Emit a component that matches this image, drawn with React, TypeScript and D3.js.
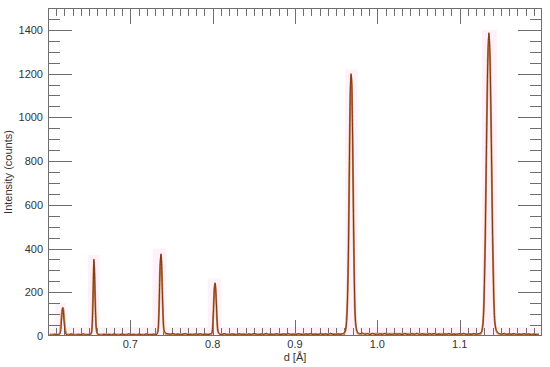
import React, { useEffect, useRef } from 'react';
import * as d3 from 'd3';

// observed profile [d, counts]
const observed: [number, number][] = [
  [0.602, 6], [0.605, 3], [0.608, 9], [0.611, 5], [0.614, 8], [0.6155, 22], [0.6165, 70], [0.6175, 122], [0.618, 130],
  [0.6185, 118], [0.6195, 66], [0.6205, 22], [0.622, 8], [0.625, 4], [0.628, 10], [0.631, 6], [0.634, 3], [0.637, 8],
  [0.640, 5], [0.643, 11], [0.646, 4], [0.649, 7], [0.652, 9], [0.653, 20], [0.654, 80], [0.655, 230], [0.6557, 352],
  [0.6565, 290], [0.6575, 140], [0.6585, 40], [0.660, 12], [0.662, 6], [0.665, 3], [0.668, 9], [0.671, 5], [0.674, 8],
  [0.677, 4], [0.680, 10], [0.683, 6], [0.686, 3], [0.689, 9], [0.692, 7], [0.695, 4], [0.698, 11], [0.701, 5],
  [0.704, 8], [0.707, 3], [0.710, 9], [0.713, 6], [0.716, 4], [0.719, 10], [0.722, 7], [0.725, 5], [0.728, 9],
  [0.731, 6], [0.733, 12], [0.734, 40], [0.735, 140], [0.736, 300], [0.7373, 376], [0.738, 330], [0.739, 190],
  [0.740, 70], [0.741, 25], [0.743, 14], [0.746, 10], [0.749, 8], [0.752, 12], [0.755, 6], [0.758, 10], [0.761, 5],
  [0.764, 9], [0.767, 12], [0.770, 6], [0.773, 8], [0.776, 4], [0.779, 10], [0.782, 7], [0.785, 11], [0.788, 5],
  [0.791, 9], [0.794, 6], [0.797, 10], [0.799, 14], [0.800, 40], [0.801, 120], [0.802, 215], [0.8028, 243],
  [0.8035, 225], [0.8045, 150], [0.8055, 60], [0.8065, 22], [0.808, 10], [0.811, 6], [0.814, 12], [0.817, 7],
  [0.820, 4], [0.823, 10], [0.826, 8], [0.829, 5], [0.832, 11], [0.835, 7], [0.838, 9], [0.841, 4], [0.844, 10],
  [0.847, 6], [0.850, 12], [0.853, 8], [0.856, 5], [0.859, 10], [0.862, 7], [0.865, 13], [0.868, 6], [0.871, 9],
  [0.874, 5], [0.877, 11], [0.880, 8], [0.883, 6], [0.886, 10], [0.889, 7], [0.892, 12], [0.895, 5], [0.898, 9],
  [0.901, 6], [0.904, 11], [0.907, 8], [0.910, 5], [0.913, 10], [0.916, 7], [0.919, 12], [0.922, 6], [0.925, 9],
  [0.928, 5], [0.931, 11], [0.934, 7], [0.937, 10], [0.940, 6], [0.943, 13], [0.946, 8], [0.949, 5], [0.952, 10],
  [0.955, 7], [0.958, 12], [0.960, 16], [0.962, 40], [0.9635, 140], [0.965, 420], [0.966, 760], [0.967, 1080],
  [0.968, 1200], [0.969, 1150], [0.970, 900], [0.971, 560], [0.972, 270], [0.973, 100], [0.9745, 35], [0.976, 18],
  [0.979, 10], [0.982, 14], [0.985, 7], [0.988, 11], [0.991, 6], [0.994, 12], [0.997, 8], [1.000, 5], [1.003, 10],
  [1.006, 7], [1.009, 12], [1.012, 6], [1.015, 9], [1.018, 5], [1.021, 11], [1.024, 7], [1.027, 10], [1.030, 6],
  [1.033, 12], [1.036, 8], [1.039, 5], [1.042, 11], [1.045, 7], [1.048, 13], [1.051, 6], [1.054, 10], [1.057, 8],
  [1.060, 5], [1.063, 11], [1.066, 7], [1.069, 12], [1.072, 6], [1.075, 9], [1.078, 5], [1.081, 10], [1.084, 7],
  [1.087, 12], [1.090, 6], [1.093, 9], [1.096, 5], [1.099, 11], [1.102, 8], [1.105, 13], [1.108, 6], [1.111, 10],
  [1.114, 7], [1.117, 12], [1.120, 8], [1.123, 11], [1.126, 16], [1.128, 45], [1.1295, 150], [1.131, 430],
  [1.1325, 850], [1.134, 1230], [1.1355, 1387], [1.137, 1250], [1.1385, 880], [1.140, 460], [1.1415, 170],
  [1.143, 55], [1.145, 22], [1.148, 12], [1.151, 8], [1.154, 13], [1.157, 6], [1.160, 10], [1.163, 7], [1.166, 12],
  [1.169, 5], [1.172, 9], [1.175, 6], [1.178, 11], [1.181, 7], [1.184, 10], [1.187, 5], [1.190, 9], [1.193, 6],
  [1.196, 8],
];

// calculated profile [d, counts]
const calculated: [number, number][] = [
  [0.602, 7], [0.613, 7], [0.6145, 14], [0.616, 72], [0.617, 115], [0.618, 128], [0.619, 112], [0.620, 66],
  [0.6215, 18], [0.623, 7], [0.651, 7], [0.653, 18], [0.654, 78], [0.655, 235], [0.6557, 345], [0.6565, 292],
  [0.6575, 138], [0.6585, 42], [0.660, 11], [0.662, 7], [0.732, 8], [0.734, 38], [0.735, 142], [0.736, 298],
  [0.7373, 370], [0.738, 328], [0.739, 188], [0.740, 68], [0.741, 24], [0.743, 10], [0.745, 8], [0.799, 8],
  [0.800, 38], [0.801, 118], [0.802, 212], [0.8028, 240], [0.8035, 222], [0.8045, 148], [0.8055, 58], [0.8065, 20],
  [0.809, 8], [0.959, 9], [0.961, 20], [0.9635, 140], [0.965, 420], [0.966, 760], [0.967, 1075], [0.968, 1195],
  [0.969, 1148], [0.970, 895], [0.971, 555], [0.972, 265], [0.973, 98], [0.9745, 32], [0.977, 10], [1.125, 9],
  [1.127, 22], [1.1295, 148], [1.131, 428], [1.1325, 848], [1.134, 1228], [1.1355, 1382], [1.137, 1248],
  [1.1385, 878], [1.140, 458], [1.1415, 168], [1.143, 52], [1.146, 14], [1.149, 9], [1.196, 8],
];

// shaded reflection windows [dFrom, dTo, top]
const peakBands: [number, number, number][] = [
  [0.609, 0.622, 150],
  [0.6485, 0.662, 370],
  [0.727, 0.744, 400],
  [0.794, 0.8105, 262],
  [0.961, 0.976, 1220],
  [1.127, 1.145, 1400],
];
const baseBand = 40;

const xDomain = [0.6, 1.2];
const yDomain = [0, 1500];
const xTicks = [0.7, 0.8, 0.9, 1.0, 1.1];
const yTicks = [0, 200, 400, 600, 800, 1000, 1200, 1400];

export default function App() {
  const ref = useRef<SVGSVGElement>(null);

  useEffect(() => {
    const svg = d3.select(ref.current);
    svg.selectAll('*').remove();

    const left = 48, right = 542, top = 8, bottom = 336;
    const x = d3.scaleLinear().domain(xDomain).range([left, right]);
    const y = d3.scaleLinear().domain(yDomain).range([bottom, top]);

    const font = 'Liberation Sans, Arial, sans-serif';
    const axisColor = '#6e6e6e';
    const pink = '#fef1fa';

    // pink background bands
    svg.append('rect')
      .attr('x', left).attr('y', y(baseBand))
      .attr('width', right - left).attr('height', bottom - y(baseBand))
      .attr('fill', pink);

    svg.selectAll('rect.band')
      .data(peakBands)
      .enter().append('rect')
      .attr('class', 'band')
      .attr('x', d => x(d[0]))
      .attr('y', d => y(d[2]))
      .attr('width', d => x(d[1]) - x(d[0]))
      .attr('height', d => bottom - y(d[2]))
      .attr('fill', pink);

    // ticks (inward, all four sides)
    const xMinor = d3.range(61, 120).map(v => v / 100);
    const yMinor = d3.range(0, 1501, 50);
    const tickG = svg.append('g').attr('stroke', axisColor).attr('stroke-width', 1);
    xMinor.forEach(v => {
      const major = xTicks.some(t => Math.abs(t - v) < 1e-6);
      const len = major ? 16 : 8;
      const px = Math.round(x(v)) + 0.5;
      tickG.append('line').attr('x1', px).attr('x2', px).attr('y1', bottom).attr('y2', bottom - len);
      tickG.append('line').attr('x1', px).attr('x2', px).attr('y1', top).attr('y2', top + len);
    });
    yMinor.forEach(v => {
      if (v === 0 || v === 1500) return;
      const major = v % 200 === 0;
      const len = major ? 24 : 12;
      const py = Math.round(y(v)) + 0.5;
      tickG.append('line').attr('x1', left).attr('x2', left + len).attr('y1', py).attr('y2', py);
      tickG.append('line').attr('x1', right).attr('x2', right - len).attr('y1', py).attr('y2', py);
    });

    // profiles
    const line = d3.line<[number, number]>()
      .x(d => x(d[0]))
      .y(d => y(d[1]))
      .curve(d3.curveMonotoneX);

    svg.append('path')
      .attr('d', line(calculated))
      .attr('fill', 'none')
      .attr('stroke', '#c98a55')
      .attr('stroke-width', 2);

    svg.append('path')
      .attr('d', line(observed))
      .attr('fill', 'none')
      .attr('stroke', '#7a3414')
      .attr('stroke-width', 1);

    // frame
    svg.append('rect')
      .attr('x', left + 0.5).attr('y', top + 0.5)
      .attr('width', right - left - 1).attr('height', bottom - top - 1)
      .attr('fill', 'none')
      .attr('stroke', axisColor);

    // tick labels
    svg.selectAll('text.xl')
      .data(xTicks)
      .enter().append('text')
      .attr('class', 'xl')
      .attr('x', d => x(d))
      .attr('y', bottom + 12)
      .attr('text-anchor', 'middle')
      .attr('font-family', font)
      .attr('font-size', 11)
      .attr('fill', '#333')
      .text(d => d.toFixed(1));

    svg.selectAll('text.yl')
      .data(yTicks)
      .enter().append('text')
      .attr('class', 'yl')
      .attr('x', left - 5)
      .attr('y', d => y(d) + 4)
      .attr('text-anchor', 'end')
      .attr('font-family', font)
      .attr('font-size', 11)
      .attr('fill', '#333')
      .text(d => String(d));

    // axis titles
    svg.append('text')
      .attr('x', (left + right) / 2)
      .attr('y', 361)
      .attr('text-anchor', 'middle')
      .attr('font-family', font)
      .attr('font-size', 11)
      .attr('fill', '#333')
      .text('d [Å]');

    svg.append('text')
      .attr('transform', `translate(12,${(top + bottom) / 2})rotate(-90)`)
      .attr('text-anchor', 'middle')
      .attr('font-family', font)
      .attr('font-size', 11)
      .attr('fill', '#333')
      .text('Intensity (counts)');
  }, []);

  return (
    <svg
      ref={ref}
      width={550}
      height={367}
      style={{ position: 'absolute', left: 0, top: 0, background: 'white' }}
    />
  );
}
